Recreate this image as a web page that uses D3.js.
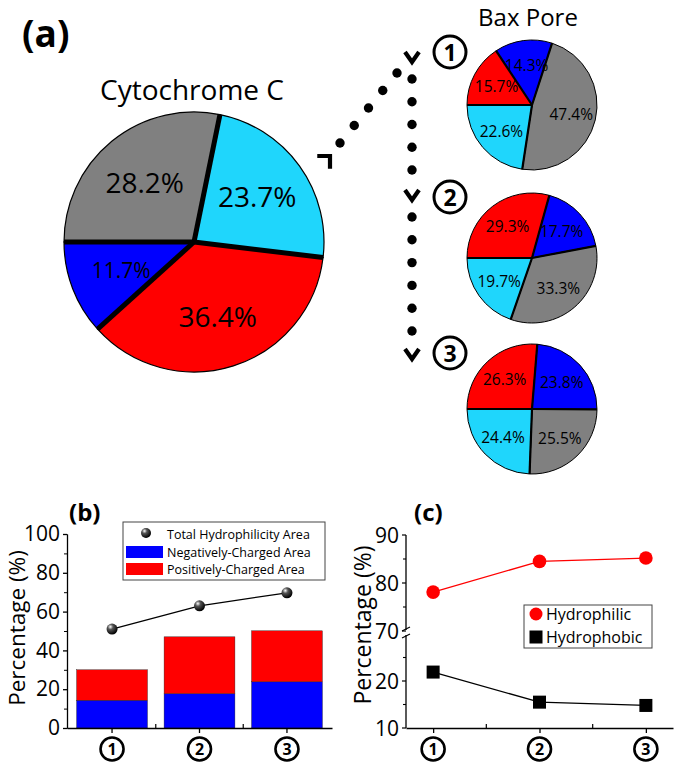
<!DOCTYPE html>
<html><head><meta charset="utf-8">
<script src="https://cdn.jsdelivr.net/npm/d3@7"></script>
<style>body{margin:0;background:#fff} svg{display:block} text{font-family:"Open Sans",sans-serif;fill:#000}</style>
</head><body><svg id="chart" width="675" height="767"></svg>
<script>
// ---------- DATA ----------
const cytoCategories = ["Hydrophobic", "Neutral hydrophilic", "Positively-Charged", "Negatively-Charged"];
const cytoValues = [28.2, 23.7, 36.4, 11.7];
const baxCategories = ["Positively-Charged", "Negatively-Charged", "Hydrophobic", "Neutral hydrophilic"];
const bax1Values = [15.7, 14.3, 47.4, 22.6];
const bax2Values = [29.3, 17.7, 33.3, 19.7];
const bax3Values = [26.3, 23.8, 25.5, 24.4];
const sites = ["1", "2", "3"];
const negativeArea = [14.3, 17.7, 23.8];
const positiveArea = [15.7, 29.3, 26.3];
const totalHydrophilicity = [51.0, 63.0, 69.7];
const hydrophilic = [78.1, 84.5, 85.2];
const hydrophobic = [21.9, 15.5, 14.8];
const yTicksB = [0, 20, 40, 60, 80, 100];
const yMinorB = [10, 30, 50, 70, 90];
const yTicksC = [10, 20, 70, 80, 90];
const yMinorC = [15, 25, 75, 85];

// ---------- STYLE ----------
const color = {
  "Hydrophobic": "#808080",
  "Neutral hydrophilic": "#1fd6fc",
  "Positively-Charged": "#ff0000",
  "Negatively-Charged": "#0000ff"
};
const svg = d3.select("#chart");
const defs = svg.append("defs");
const grad = defs.append("radialGradient").attr("id", "ball").attr("cx", "35%").attr("cy", "30%").attr("r", "70%");
grad.append("stop").attr("offset", "0%").attr("stop-color", "#ffffff");
grad.append("stop").attr("offset", "35%").attr("stop-color", "#555");
grad.append("stop").attr("offset", "100%").attr("stop-color", "#000");

function circledNumber(g, x, y, r, label, fs, sw) {
  g.append("circle").attr("cx", x).attr("cy", y).attr("r", r)
    .attr("fill", "none").attr("stroke", "#000").attr("stroke-width", sw);
  g.append("text").attr("x", x).attr("y", y).attr("text-anchor", "middle")
    .attr("dominant-baseline", "central").attr("font-size", fs).attr("font-weight", 700).text(label);
}

// ---------- PIE ----------
function drawPie(cx, cy, r, cats, vals, opts) {
  const data = cats.map((c, i) => ({ c, v: vals[i] }));
  const pie = d3.pie().sort(null).value(d => d.v).startAngle(-Math.PI / 2).endAngle(1.5 * Math.PI);
  const arcs = pie(data);
  const arc = d3.arc().innerRadius(0).outerRadius(r);
  const lab = d3.arc().innerRadius(r * opts.lf).outerRadius(r * opts.lf);
  const g = svg.append("g").attr("transform", `translate(${cx},${cy})`);
  g.selectAll("path.slice").data(arcs).join("path").attr("class", "slice")
    .attr("d", arc).attr("fill", d => color[d.data.c])
    .attr("stroke", "#000").attr("stroke-width", opts.outer);
  g.selectAll("line.sep").data(arcs).join("line").attr("class", "sep")
    .attr("x1", 0).attr("y1", 0)
    .attr("x2", d => r * Math.sin(d.startAngle)).attr("y2", d => -r * Math.cos(d.startAngle))
    .attr("stroke", "#000").attr("stroke-width", opts.sep);
  g.selectAll("text").data(arcs).join("text")
    .attr("x", d => lab.centroid(d)[0]).attr("y", d => lab.centroid(d)[1])
    .attr("text-anchor", "middle").attr("dominant-baseline", "central")
    .attr("font-size", d => opts.fs(d))
    .text(d => d.data.v.toFixed(1) + "%");
}

// Panel (a)
svg.append("text").attr("x", 22).attr("y", 47).attr("font-size", 37).attr("font-weight", 700).text("(a)");
svg.append("text").attr("x", 192).attr("y", 100).attr("text-anchor", "middle").attr("font-size", 28).text("Cytochrome C");
drawPie(194, 242, 130, cytoCategories, cytoValues, { lf: 0.6, outer: 1.2, sep: 5, fs: d => d.data.v < 15 ? 21 : 28 });

svg.append("text").attr("x", 528).attr("y", 26).attr("text-anchor", "middle").attr("font-size", 24).text("Bax Pore");
const smallPies = [
  { cy: 105, vals: bax1Values },
  { cy: 258, vals: bax2Values },
  { cy: 409, vals: bax3Values }
];
smallPies.forEach((p) => {
  drawPie(532, p.cy, 65, baxCategories, p.vals, { lf: 0.62, outer: 1, sep: 2.2, fs: () => 15.5 });
});
const markG = svg.append("g");
[52, 197, 353].forEach((y, i) => circledNumber(markG, 450, y, 16, sites[i], 23, 3));

// Dotted arrows
const arrowG = svg.append("g");
function dots(x1, y1, x2, y2, n) {
  for (let k = 0; k < n; k++) {
    const t = n === 1 ? 0 : k / (n - 1);
    arrowG.append("circle").attr("cx", x1 + (x2 - x1) * t).attr("cy", y1 + (y2 - y1) * t).attr("r", 4.7).attr("fill", "#000");
  }
}
dots(340, 143, 397, 73, 5);
dots(412, 79, 412, 170, 5);
dots(412, 217, 412, 331, 6);
function chevron(x, y, rot, a, b) {
  arrowG.append("path").attr("d", `M${-a},${-b} L0,0 L${a},${-b}`)
    .attr("transform", `translate(${x},${y}) rotate(${rot})`)
    .attr("fill", "none").attr("stroke", "#000").attr("stroke-width", 4.2)
    .attr("stroke-linejoin", "miter");
}
chevron(412, 62, 0, 7, 10);
chevron(412, 200, 0, 7, 10);
chevron(412, 359, 0, 7, 10);
chevron(330, 156, -135, 9, 9);

// ---------- Panel (b) ----------
const gb = svg.append("g");
const xB = d3.scaleBand().domain(sites).range([67, 332]).paddingInner(0.19).paddingOuter(0.11);
const yB = d3.scaleLinear().domain([0, 100]).range([728, 534]);
const stackData = sites.map((s, i) => ({ s, neg: negativeArea[i], pos: positiveArea[i] }));
const series = d3.stack().keys(["neg", "pos"])(stackData);
const barColor = { neg: color["Negatively-Charged"], pos: color["Positively-Charged"] };
gb.selectAll("g.ser").data(series).join("g").attr("class", "ser")
  .attr("fill", d => barColor[d.key])
  .selectAll("rect").data(d => d).join("rect")
  .attr("x", d => xB(d.data.s)).attr("width", xB.bandwidth())
  .attr("y", d => yB(d[1])).attr("height", d => yB(d[0]) - yB(d[1]))
  .attr("stroke", "#222").attr("stroke-width", 0.4);
const lineB = d3.line().x((d, i) => xB(sites[i]) + xB.bandwidth() / 2).y(d => yB(d));
gb.append("path").attr("d", lineB(totalHydrophilicity)).attr("fill", "none").attr("stroke", "#000").attr("stroke-width", 1.3);
gb.selectAll("circle.ball").data(totalHydrophilicity).join("circle").attr("class", "ball")
  .attr("cx", (d, i) => xB(sites[i]) + xB.bandwidth() / 2).attr("cy", d => yB(d)).attr("r", 5.5)
  .attr("fill", "url(#ball)");
// axes
const yAxB = gb.append("g").attr("transform", "translate(67,0)")
  .call(d3.axisLeft(yB).tickValues(yTicksB).tickSize(4).tickPadding(3).tickSizeOuter(0));
gb.append("g").attr("transform", "translate(67,0)")
  .call(d3.axisLeft(yB).tickValues(yMinorB).tickSize(3).tickFormat("").tickSizeOuter(0))
  .selectAll("path,line").attr("stroke", "#000");
const xAxB = gb.append("g").attr("transform", "translate(0,728)")
  .call(d3.axisBottom(xB).tickSize(5).tickSizeOuter(0).tickFormat(""));
const midB = sites.slice(1).map((s, i) => (xB(sites[i]) + xB(s) + xB.bandwidth()) / 2);
gb.selectAll("line.minx").data(midB).join("line").attr("class", "minx")
  .attr("x1", d => d).attr("x2", d => d).attr("y1", 728).attr("y2", 724).attr("stroke", "#000").attr("stroke-width", 1.2);
[yAxB, xAxB].forEach(a => { a.selectAll("path,line").attr("stroke", "#000").attr("stroke-width", 1.3); });
gb.selectAll(".tick text").attr("font-size", 21).attr("font-family", "Open Sans").attr("fill", "#000");
sites.forEach(s => circledNumber(gb, xB(s) + xB.bandwidth() / 2, 749, 11.5, s, 16, 2.6));
gb.append("text").attr("transform", "translate(24.5,628) rotate(-90)").attr("text-anchor", "middle")
  .attr("font-size", 22.5).text("Percentage (%)");
gb.append("text").attr("x", 69).attr("y", 521).attr("font-size", 24).attr("font-weight", 700).text("(b)");
// legend
gb.append("rect").attr("x", 123).attr("y", 522).attr("width", 202).attr("height", 58)
  .attr("fill", "#fff").attr("stroke", "#444").attr("stroke-width", 1);
gb.append("circle").attr("cx", 146).attr("cy", 533).attr("r", 5).attr("fill", "url(#ball)");
gb.append("rect").attr("x", 126).attr("y", 546).attr("width", 37).attr("height", 12).attr("fill", barColor.neg);
gb.append("rect").attr("x", 126).attr("y", 563).attr("width", 37).attr("height", 12).attr("fill", barColor.pos);
const legB = ["Total Hydrophilicity Area", "Negatively-Charged Area", "Positively-Charged Area"];
gb.selectAll("text.leg").data(legB).join("text").attr("class", "leg")
  .attr("x", 167).attr("y", (d, i) => [534, 552, 569][i]).attr("dominant-baseline", "central")
  .attr("font-size", 12.5).text(d => d);

// ---------- Panel (c) ----------
const gc = svg.append("g");
const xC = d3.scalePoint().domain(sites).range([406, 673]).padding(0.255);
const yC = d3.scaleLinear().domain([10, 30, 70, 90]).range([728, 634, 631, 535]);
const lineC = d3.line().x((d, i) => xC(sites[i])).y(d => yC(d));
gc.append("path").attr("d", lineC(hydrophilic)).attr("fill", "none").attr("stroke", "#ff0000").attr("stroke-width", 1.3);
gc.append("path").attr("d", lineC(hydrophobic)).attr("fill", "none").attr("stroke", "#000").attr("stroke-width", 1.3);
gc.selectAll("circle.hp").data(hydrophilic).join("circle").attr("class", "hp")
  .attr("cx", (d, i) => xC(sites[i])).attr("cy", d => yC(d)).attr("r", 6.8).attr("fill", "#ff0000");
gc.selectAll("rect.hb").data(hydrophobic).join("rect").attr("class", "hb")
  .attr("x", (d, i) => xC(sites[i]) - 6.5).attr("y", d => yC(d) - 6.5).attr("width", 13).attr("height", 13).attr("fill", "#000");
// y axis with break
const yAxC = gc.append("g").attr("transform", "translate(406,0)");
yAxC.append("line").attr("x1", 0).attr("x2", 0).attr("y1", yC(90)).attr("y2", yC(70) - 1).attr("stroke", "#000").attr("stroke-width", 1.3);
yAxC.append("line").attr("x1", 0).attr("x2", 0).attr("y1", yC(30) + 1).attr("y2", yC(10)).attr("stroke", "#000").attr("stroke-width", 1.3);
[yC(70) - 2, yC(30) + 2].forEach(y => yAxC.append("line").attr("x1", -4).attr("x2", 4).attr("y1", y + 2).attr("y2", y - 2).attr("stroke", "#000").attr("stroke-width", 1.1));
yAxC.selectAll("line.maj").data(yTicksC).join("line").attr("class", "maj")
  .attr("x1", -4).attr("x2", 0).attr("y1", d => yC(d)).attr("y2", d => yC(d)).attr("stroke", "#000").attr("stroke-width", 1.2);
yAxC.selectAll("line.min").data(yMinorC).join("line").attr("class", "min")
  .attr("x1", -3).attr("x2", 0).attr("y1", d => yC(d)).attr("y2", d => yC(d)).attr("stroke", "#000").attr("stroke-width", 1.1);
yAxC.selectAll("text").data(yTicksC).join("text").attr("x", -7).attr("y", d => yC(d))
  .attr("text-anchor", "end").attr("dominant-baseline", "central").attr("font-size", 21).text(d => d);
const xAxC = gc.append("g").attr("transform", "translate(0,728)")
  .call(d3.axisBottom(xC).tickSize(5).tickSizeOuter(0).tickFormat(""));
xAxC.selectAll("path,line").attr("stroke", "#000").attr("stroke-width", 1.3);
const midC = sites.slice(1).map((s, i) => (xC(sites[i]) + xC(s)) / 2);
gc.selectAll("line.minx").data(midC).join("line").attr("class", "minx")
  .attr("x1", d => d).attr("x2", d => d).attr("y1", 728).attr("y2", 724).attr("stroke", "#000").attr("stroke-width", 1.2);
sites.forEach(s => circledNumber(gc, xC(s), 749, 11.5, s, 16, 2.6));
gc.append("text").attr("transform", "translate(362,625) rotate(-90)").attr("text-anchor", "middle")
  .attr("dominant-baseline", "central").attr("font-size", 23).text("Percentage (%)");
gc.append("text").attr("x", 414).attr("y", 521).attr("font-size", 24).attr("font-weight", 700).text("(c)");
// legend
gc.append("rect").attr("x", 524).attr("y", 605).attr("width", 128).attr("height", 43)
  .attr("fill", "#fff").attr("stroke", "#444").attr("stroke-width", 1);
gc.append("circle").attr("cx", 536).attr("cy", 614).attr("r", 6.5).attr("fill", "#ff0000");
gc.append("rect").attr("x", 529.5).attr("y", 630.5).attr("width", 13).attr("height", 13).attr("fill", "#000");
gc.selectAll("text.leg").data(["Hydrophilic", "Hydrophobic"]).join("text").attr("class", "leg")
  .attr("x", 546).attr("y", (d, i) => [614, 637][i]).attr("dominant-baseline", "central")
  .attr("font-size", 16).text(d => d);
</script></body></html>
